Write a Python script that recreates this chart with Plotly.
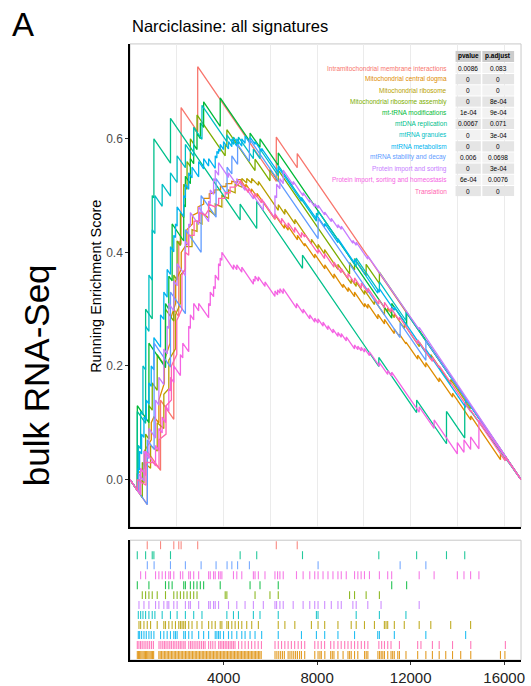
import plotly.graph_objects as go

W, H = 531, 686
N_GENES = 16720

set_names = [
    "Intramitochondrial membrane interactions",
    "Mitochondrial central dogma",
    "Mitochondrial ribosome",
    "Mitochondrial ribosome assembly",
    "mt-tRNA modifications",
    "mtDNA replication",
    "mtRNA granules",
    "mtRNA metabolism",
    "mtRNA stability and decay",
    "Protein import and sorting",
    "Protein import, sorting and homeostasis",
    "Translation",
]
set_colors = ["#F8766D", "#DE8C00", "#B79F00", "#7CAE00", "#00BA38", "#00C08B",
              "#00BFC4", "#00B4F0", "#619CFF", "#C77CFF", "#F564E3", "#FF64B0"]
pvalues = ["0.0086", "0", "0", "0", "1e-04", "0.0067", "0", "0", "0.006", "0", "6e-04", "0"]
padjust = ["0.083", "0", "0", "8e-04", "9e-04", "0.071", "3e-04", "0", "0.0698", "3e-04", "0.0076", "0"]

y_tick_vals = [0.0, 0.2, 0.4, 0.6]
y_tick_text = ["0.0", "0.2", "0.4", "0.6"]
x_tick_vals = [4000, 8000, 12000, 16000]
x_tick_text = ["4000", "8000", "12000", "16000"]

# running enrichment score vertices (gene rank, score)
es_intramito = [(0, 0), (737, -0.044), (737, 0.05), (1305, 0.016), (1305, 0.14), (1872, 0.106), (1872, 0.30),
                (2085, 0.287), (2085, 0.42), (2185, 0.414), (2185, 0.655), (2894, 0.612), (2894, 0.727),
                (6255, 0.525), (6255, 0.603), (7150, 0.549), (7150, 0.574), (16720, 0.0)]

es_central_dogma = [(0, 0), (312, -0.019), (312, 0.01), (610, 0.02), (610, 0.05), (910, 0.07), (910, 0.1), (1021, 0.11),
                    (1234, 0.1), (1234, 0.14), (1470, 0.17), (1470, 0.21), (1710, 0.24), (1710, 0.28), (1950, 0.31),
                    (1950, 0.35), (2190, 0.37), (2190, 0.40), (2430, 0.415), (2430, 0.44), (2670, 0.45), (2670, 0.465),
                    (2910, 0.47), (2910, 0.48), (3150, 0.485), (3150, 0.495), (3390, 0.495), (3390, 0.503),
                    (3630, 0.505), (3630, 0.51), (3870, 0.51), (3870, 0.516), (4110, 0.516), (4110, 0.521),
                    (4350, 0.521), (4350, 0.525), (4590, 0.523), (4590, 0.528), (4720, 0.528),
                    (4950, 0.514), (4950, 0.52), (5190, 0.5055), (5190, 0.512), (5430, 0.4975), (5430, 0.504),
                    (5610, 0.493), (6200, 0.458), (6200, 0.466), (6600, 0.442), (6600, 0.449), (6760, 0.439),
                    (6760, 0.446), (7160, 0.422), (7160, 0.43), (7470, 0.411), (7470, 0.416), (7900, 0.39),
                    (7900, 0.397), (8330, 0.371), (8330, 0.378), (8720, 0.354), (8720, 0.362), (9110, 0.338),
                    (9110, 0.344), (9330, 0.331), (9330, 0.338), (9600, 0.322), (9600, 0.33), (10030, 0.304),
                    (10030, 0.31), (10170, 0.3015), (10170, 0.309), (10600, 0.283), (10600, 0.291), (10880, 0.274),
                    (10880, 0.282), (11300, 0.257), (11300, 0.265), (11520, 0.252), (11520, 0.256), (11800, 0.239),
                    (11800, 0.242), (12300, 0.212), (12300, 0.219), (12650, 0.198), (12650, 0.206), (13220, 0.172),
                    (13220, 0.179), (13790, 0.145), (13790, 0.152), (14570, 0.105), (14570, 0.112), (15840, 0.035),
                    (15840, 0.045), (16030, 0.034), (16030, 0.042), (16720, 0.0)]

es_ribosome = [(0, 0), (383, -0.023), (383, 0.0), (596, -0.005), (596, 0.03), (879, 0.02), (879, 0.06), (1163, 0.05),
               (1163, 0.1), (1446, 0.09), (1446, 0.15), (1659, 0.16), (1659, 0.21), (1943, 0.23), (1943, 0.29),
               (2155, 0.31), (2155, 0.36), (2368, 0.37), (2368, 0.41), (2652, 0.41), (2652, 0.44), (2865, 0.437),
               (2865, 0.455), (3077, 0.45), (3077, 0.47), (3361, 0.46), (3361, 0.475), (3644, 0.465), (3644, 0.485),
               (3928, 0.48), (3928, 0.5), (4211, 0.495), (4211, 0.51), (4495, 0.505), (4495, 0.52), (4779, 0.515),
               (4779, 0.53), (4990, 0.522), (4990, 0.53), (5200, 0.522), (5200, 0.53), (5490, 0.518), (5490, 0.525),
               (6340, 0.474), (6340, 0.484), (6620, 0.467), (6620, 0.476), (7050, 0.45), (7050, 0.458),
               (7760, 0.415), (7760, 0.423), (8040, 0.406), (8040, 0.414), (8320, 0.397), (8320, 0.405),
               (8890, 0.37), (8890, 0.379), (9460, 0.345), (9460, 0.353), (9670, 0.34), (9670, 0.348),
               (10030, 0.326), (10030, 0.333), (10450, 0.308), (10450, 0.316), (10880, 0.29), (10880, 0.303),
               (11020, 0.295), (11020, 0.302), (11300, 0.285), (11300, 0.292), (11730, 0.266), (11730, 0.273),
               (12370, 0.234), (12370, 0.242), (12860, 0.212), (12860, 0.22), (13710, 0.168), (13710, 0.176),
               (14560, 0.125), (14560, 0.131), (16720, 0.0)]

es_assembly = [(0, 0), (525, -0.032), (525, 0.03), (666, 0.022), (666, 0.08), (808, 0.071), (808, 0.13), (950, 0.122),
               (950, 0.17), (1163, 0.157), (1163, 0.22), (1517, 0.199), (1517, 0.30), (1872, 0.279), (1872, 0.36),
               (2014, 0.351), (2014, 0.42), (2155, 0.412), (2155, 0.47), (2297, 0.461), (2297, 0.52), (2439, 0.511),
               (2439, 0.56), (2581, 0.551), (2581, 0.60), (2723, 0.591), (2723, 0.62), (2865, 0.611), (2865, 0.642),
               (4070, 0.57), (4070, 0.59), (4141, 0.586), (4141, 0.616), (5346, 0.544), (5346, 0.564),
               (5984, 0.526), (5984, 0.546), (6338, 0.525), (6338, 0.545), (9388, 0.362), (9388, 0.382),
               (9600, 0.369), (9600, 0.389), (10096, 0.359), (10096, 0.379), (10663, 0.345), (10663, 0.365),
               (16720, 0.0)]

es_trna = [(0, 0), (312, -0.019), (312, 0.13), (808, 0.10), (808, 0.24), (1517, 0.197), (1517, 0.31), (1659, 0.30),
           (1659, 0.358), (1801, 0.35), (1801, 0.45), (2297, 0.42), (2297, 0.484), (2368, 0.48), (2368, 0.534),
           (2581, 0.521), (2581, 0.565), (2723, 0.556), (2723, 0.59), (2865, 0.581), (2865, 0.61), (3007, 0.60),
           (3007, 0.628), (3148, 0.62), (3148, 0.665), (3857, 0.622), (3857, 0.672), (5133, 0.595), (5133, 0.61),
           (5558, 0.585), (5558, 0.60), (6338, 0.553), (6338, 0.575), (11190, 0.284), (11190, 0.31),
           (11828, 0.272), (11828, 0.294), (16720, 0.0)]

es_mtdna = [(0, 0), (311, -0.019), (311, 0.12), (667, 0.099), (667, 0.30), (950, 0.283), (950, 0.50), (1021, 0.496),
            (1021, 0.60), (1731, 0.557), (1731, 0.636), (4709, 0.457), (4709, 0.485), (5418, 0.442), (5418, 0.49),
            (7375, 0.372), (7375, 0.395), (10638, 0.199), (10638, 0.215), (12255, 0.118), (12255, 0.14),
            (13532, 0.063), (13532, 0.12), (14312, 0.073), (14312, 0.135), (16720, 0.0)]

es_granules = [(0, 0), (355, -0.021), (355, 0.06), (454, 0.054), (454, 0.12), (553, 0.114), (553, 0.20), (666, 0.193),
               (666, 0.27), (808, 0.261), (808, 0.36), (950, 0.351), (950, 0.44), (1064, 0.433), (1064, 0.50),
               (1375, 0.481), (1375, 0.52), (1730, 0.499), (1730, 0.54), (2014, 0.523), (2014, 0.57), (2368, 0.549),
               (2368, 0.59), (2723, 0.569), (2723, 0.62), (3077, 0.599), (3077, 0.659), (4141, 0.595), (4141, 0.607),
               (4424, 0.59), (4424, 0.603), (4637, 0.59), (4637, 0.603), (5275, 0.565), (5275, 0.582),
               (5558, 0.565), (5558, 0.582), (6338, 0.535), (6338, 0.553), (7970, 0.455), (7970, 0.469),
               (8040, 0.465), (8040, 0.473), (9671, 0.375), (9671, 0.39), (10663, 0.33), (10663, 0.348),
               (11798, 0.28), (11798, 0.295), (16720, 0.0)]

es_metabolism = [(0, 0), (355, -0.021), (355, 0.02), (411, 0.017), (411, 0.05), (496, 0.045), (496, 0.08), (596, 0.074),
                 (596, 0.11), (695, 0.104), (695, 0.14), (808, 0.133), (808, 0.17), (907, 0.164), (907, 0.20),
                 (1021, 0.193), (1021, 0.25), (1305, 0.233), (1305, 0.29), (1446, 0.282), (1446, 0.33),
                 (1588, 0.321), (1588, 0.37), (1730, 0.361), (1730, 0.41), (1872, 0.401), (1872, 0.43),
                 (1943, 0.426), (1943, 0.45), (2014, 0.446), (2014, 0.48), (2297, 0.463), (2297, 0.50),
                 (2368, 0.496), (2368, 0.52), (2510, 0.511), (2510, 0.54), (2652, 0.531), (2652, 0.55),
                 (2935, 0.533), (2935, 0.56), (3148, 0.547), (3148, 0.565), (3361, 0.552), (3361, 0.565),
                 (3644, 0.548), (3644, 0.57), (3715, 0.566), (3715, 0.578), (3786, 0.574), (3786, 0.582),
                 (3857, 0.578), (3857, 0.59), (3999, 0.581), (3999, 0.595), (4211, 0.582), (4211, 0.595),
                 (4353, 0.586), (4353, 0.60), (4566, 0.587), (4566, 0.60), (4779, 0.587), (4779, 0.60),
                 (4920, 0.592), (4920, 0.605), (5133, 0.592), (5133, 0.603), (5346, 0.59), (5346, 0.595),
                 (5629, 0.578), (5629, 0.583), (6338, 0.541), (6338, 0.55), (7331, 0.49), (7331, 0.497),
                 (7970, 0.459), (7970, 0.466), (8324, 0.445), (8324, 0.451), (8891, 0.417), (8891, 0.424),
                 (9600, 0.381), (9600, 0.388), (10592, 0.328), (10592, 0.334), (10663, 0.33), (10663, 0.336),
                 (11302, 0.298), (11302, 0.304), (12649, 0.223), (12649, 0.229), (14351, 0.127), (14351, 0.142),
                 (16720, 0.0)]

es_stability = [(0, 0), (740, -0.044), (740, 0.07), (1030, 0.053), (1030, 0.24), (1730, 0.198), (1730, 0.33),
                (2368, 0.292), (2368, 0.44), (3040, 0.40), (3040, 0.50), (3680, 0.462), (3680, 0.53), (4150, 0.502),
                (4150, 0.55), (4354, 0.538), (4354, 0.57), (4600, 0.555), (4600, 0.59), (5105, 0.56), (5105, 0.60),
                (8042, 0.424), (8042, 0.46), (11550, 0.25), (11550, 0.276), (12650, 0.21), (12650, 0.245),
                (16720, 0.0)]

es_import = [(0, 0), (383, -0.023), (383, 0.01), (596, -0.003), (596, 0.05), (808, 0.037), (808, 0.09), (1092, 0.073),
             (1092, 0.14), (1234, 0.131), (1234, 0.18), (1446, 0.167), (1446, 0.23), (1588, 0.221), (1588, 0.27),
             (1659, 0.266), (1659, 0.31), (1872, 0.297), (1872, 0.35), (2014, 0.341), (2014, 0.38), (2368, 0.359),
             (2368, 0.42), (2510, 0.411), (2510, 0.45), (2581, 0.446), (2581, 0.47), (2935, 0.449), (2935, 0.48),
             (3361, 0.454), (3361, 0.49), (3432, 0.486), (3432, 0.51), (3573, 0.502), (3573, 0.53), (3644, 0.526),
             (3644, 0.545), (3786, 0.536), (3786, 0.558), (4211, 0.532), (4211, 0.54), (4566, 0.519), (4566, 0.53),
             (4920, 0.509), (4920, 0.515), (5275, 0.494), (5275, 0.50), (5700, 0.4745), (5700, 0.49),
             (6197, 0.46), (6197, 0.50), (6268, 0.496), (6268, 0.52), (6409, 0.512), (6409, 0.53), (6551, 0.521),
             (6551, 0.545), (6977, 0.519), (6977, 0.525), (7402, 0.4995), (7402, 0.505), (7686, 0.488),
             (7686, 0.493), (7898, 0.48), (7898, 0.486), (8040, 0.4775), (8040, 0.483), (8324, 0.466),
             (8324, 0.471), (8607, 0.454), (8607, 0.46), (8891, 0.443), (8891, 0.449), (9033, 0.4405),
             (9033, 0.446), (9529, 0.416), (9529, 0.421), (9671, 0.4125), (9671, 0.418), (10167, 0.388),
             (10167, 0.394), (10734, 0.36), (10734, 0.362), (12365, 0.264), (12365, 0.268), (16720, 0.0)]

es_homeostasis = [(0, 0), (454, -0.027), (454, 0.02), (666, 0.007), (666, 0.05), (1092, 0.024), (1092, 0.06),
                  (1234, 0.051), (1234, 0.09), (1375, 0.082), (1375, 0.11), (1517, 0.10), (1517, 0.13), (1659, 0.12),
                  (1659, 0.16), (1730, 0.156), (1730, 0.18), (1872, 0.171), (1872, 0.20), (2155, 0.183), (2155, 0.22),
                  (2255, 0.214), (2255, 0.24), (2510, 0.225), (2510, 0.27), (2581, 0.266), (2581, 0.29),
                  (2723, 0.281), (2723, 0.31), (2935, 0.297), (2935, 0.31), (3361, 0.285), (3361, 0.31),
                  (3432, 0.306), (3432, 0.33), (3573, 0.322), (3573, 0.34), (3644, 0.336), (3644, 0.36),
                  (3786, 0.351), (3786, 0.38), (3857, 0.376), (3857, 0.39), (3928, 0.386), (3928, 0.40),
                  (4424, 0.37), (4424, 0.378), (4566, 0.3695), (4566, 0.378), (4779, 0.365), (4779, 0.374),
                  (5275, 0.344), (5275, 0.353), (5346, 0.349), (5346, 0.358), (5488, 0.3495), (5488, 0.357),
                  (5771, 0.34), (5771, 0.348), (6197, 0.3225), (6197, 0.332), (6310, 0.325), (6310, 0.334),
                  (6409, 0.328), (6409, 0.336), (6551, 0.3275), (6551, 0.336), (7118, 0.302), (7118, 0.31),
                  (7402, 0.293), (7402, 0.30), (7686, 0.283), (7686, 0.29), (7898, 0.277), (7898, 0.284),
                  (8040, 0.2755), (8040, 0.283), (8253, 0.27), (8253, 0.277), (8465, 0.264), (8465, 0.271),
                  (8678, 0.258), (8678, 0.265), (8891, 0.252), (8891, 0.259), (9033, 0.2505), (9033, 0.257),
                  (9246, 0.244), (9246, 0.251), (9600, 0.23), (9600, 0.237), (9742, 0.2285), (9742, 0.235),
                  (9883, 0.2265), (9883, 0.233), (10025, 0.2245), (10025, 0.231), (10238, 0.218), (10238, 0.225),
                  (10663, 0.1995), (10663, 0.206), (11018, 0.185), (11018, 0.192), (11188, 0.182), (11188, 0.189),
                  (12365, 0.1185), (12365, 0.128), (13003, 0.09), (13003, 0.105), (13996, 0.045), (13996, 0.065),
                  (14280, 0.048), (14280, 0.07), (14563, 0.053), (14563, 0.075), (14918, 0.054), (14918, 0.105),
                  (16720, 0.0)]

es_translation = [(0, 0), (312, -0.019), (312, 0.0), (680, -0.01), (680, 0.03), (1000, 0.03), (1240, 0.02),
                  (1240, 0.07), (1540, 0.08), (1540, 0.13), (1770, 0.14), (1770, 0.2), (2000, 0.22), (2000, 0.28),
                  (2220, 0.3), (2220, 0.36), (2360, 0.37), (2360, 0.40), (2510, 0.395), (2510, 0.43), (2740, 0.43),
                  (2740, 0.455), (2980, 0.455), (2980, 0.47), (3210, 0.465), (3360, 0.475), (3360, 0.485),
                  (3640, 0.48), (3790, 0.485), (3790, 0.495), (4070, 0.495), (4070, 0.505), (4280, 0.505),
                  (4280, 0.515), (4490, 0.515), (4640, 0.52), (4720, 0.526), (5060, 0.505), (5060, 0.513),
                  (5340, 0.496), (5340, 0.504), (5620, 0.487), (5620, 0.494), (6200, 0.459), (6200, 0.468),
                  (6480, 0.451), (6480, 0.46), (6760, 0.443), (6760, 0.452), (7040, 0.435), (7040, 0.444),
                  (7330, 0.426), (7330, 0.435), (7470, 0.427), (7470, 0.432), (8040, 0.398), (8040, 0.406),
                  (8320, 0.389), (8320, 0.398), (8720, 0.374), (8720, 0.383), (9030, 0.364), (9030, 0.372),
                  (9320, 0.354), (9320, 0.363), (9600, 0.346), (9600, 0.355), (9890, 0.337), (9890, 0.346),
                  (10170, 0.329), (10170, 0.337), (10640, 0.309), (10640, 0.317), (10880, 0.302), (10880, 0.312),
                  (11160, 0.295), (11160, 0.302), (11520, 0.28), (11520, 0.286), (12300, 0.239), (12300, 0.246),
                  (12930, 0.208), (12930, 0.215), (13220, 0.197), (13220, 0.2), (13790, 0.166), (14570, 0.119),
                  (14570, 0.122), (16050, 0.033), (16050, 0.04), (16720, 0.0)]

# gene-set member positions in the ranked list (rug panel)
hits_intramito = [737, 1305, 1872, 2085, 2185, 2894, 6255, 7150]
hits_mtdna = [311, 667, 950, 1021, 1731, 4709, 5418, 7375, 10638, 12255, 13532, 14312]
hits_stability = [740, 1030, 1730, 2368, 3040, 3680, 4150, 4354, 4600, 5105, 8042, 11550, 12650]
hits_homeostasis = [454, 666, 1092, 1234, 1375, 1517, 1659, 1730, 1872, 2155, 2255, 2510, 2581, 2723, 2935, 3361,
                    3432, 3573, 3644, 3786, 3857, 3928, 4424, 4566, 4779, 5275, 5346, 5488, 5771, 6197, 6310, 6409,
                    6551, 7118, 7402, 7686, 7898, 8040, 8253, 8465, 8678, 8891, 9033, 9246, 9600, 9742, 9883,
                    10025, 10238, 10663, 11018, 11188, 12365, 13003, 13996, 14280, 14563, 14918]
hits_trna = [312, 808, 1517, 1659, 1801, 2297, 2368, 2581, 2723, 2865, 3007, 3148, 3857, 5133, 5558, 6338,
             11190, 11828]
hits_assembly = [525, 666, 808, 950, 1163, 1517, 1872, 2014, 2155, 2297, 2439, 2581, 2723, 2865, 4070, 4141, 5346,
                 5984, 6338, 9388, 9600, 10096, 10663]
hits_import = [383, 596, 808, 1092, 1234, 1446, 1588, 1659, 1872, 2014, 2368, 2510, 2581, 2935, 3361, 3432, 3573,
               3644, 3786, 4211, 4566, 4920, 5275, 5700, 6197, 6268, 6409, 6551, 6977, 7402, 7686, 7898, 8040,
               8324, 8607, 8891, 9033, 9529, 9671, 10167, 10734, 12365]
hits_granules = [355, 454, 553, 666, 808, 950, 1064, 1375, 1730, 2014, 2368, 2723, 3077, 4141, 4424, 4637, 5275,
                 5558, 6338, 7970, 8040, 9671, 10663, 11798]
hits_ribosome = [383, 454, 596, 737, 879, 1163, 1446, 1517, 1659, 1801, 1943, 2084, 2155, 2226, 2297, 2368, 2510,
                 2652, 2865, 3077, 3361, 3502, 3644, 3857, 3928, 4141, 4211, 4353, 4495, 4637, 4779, 4991, 5204,
                 5488, 6338, 6622, 7047, 7756, 8040, 8324, 8891, 9458, 9671, 10025, 10451, 10876, 10947, 11018,
                 11302, 11727, 12365, 12861, 13712, 14563]
hits_metabolism = [355, 411, 496, 596, 695, 808, 907, 1021, 1305, 1446, 1588, 1730, 1872, 1943, 2014, 2297, 2368,
                   2510, 2652, 2935, 3148, 3361, 3644, 3715, 3786, 3857, 3999, 4211, 4353, 4566, 4779, 4920, 5133,
                   5346, 5629, 6338, 7331, 7970, 8324, 8891, 9600, 10592, 10663, 11302, 12649, 14351]
hits_translation = [312, 380, 450, 520, 600, 680, 760, 840, 920, 1000, 1240, 1320, 1400, 1470, 1540, 1620, 1700,
                    1770, 1850, 1920, 2000, 2080, 2150, 2220, 2300, 2360, 2510, 2590, 2660, 2740, 2820, 2900, 2980,
                    3060, 3140, 3210, 3360, 3450, 3540, 3640, 3790, 3860, 3930, 4000, 4070, 4140, 4210, 4280, 4350,
                    4420, 4490, 4640, 4780, 4920, 5060, 5200, 5340, 5480, 5620, 6200, 6340, 6480, 6620, 6760, 6900,
                    7040, 7190, 7330, 7470, 7900, 8040, 8180, 8320, 8580, 8720, 8890, 9030, 9180, 9320, 9460, 9600,
                    9740, 9890, 10030, 10170, 10640, 10760, 10880, 11020, 11160, 11520, 12300, 12440, 12930, 13220,
                    13790, 14570, 16050]
hits_central_dogma = [312, 360, 410, 460, 510, 560, 610, 660, 710, 760, 810, 860, 910, 960, 1010, 1234, 1290, 1350,
                      1410, 1470, 1530, 1590, 1650, 1710, 1770, 1830, 1890, 1950, 2010, 2070, 2130, 2190, 2250, 2310,
                      2370, 2430, 2490, 2550, 2610, 2670, 2730, 2790, 2850, 2910, 2970, 3030, 3090, 3150, 3210, 3270,
                      3330, 3390, 3450, 3510, 3570, 3630, 3690, 3750, 3810, 3870, 3930, 3990, 4050, 4110, 4170, 4230,
                      4290, 4350, 4410, 4470, 4530, 4590, 4650, 4710, 4770, 4830, 4890, 4950, 5010, 5070, 5130, 5190,
                      5250, 5310, 5370, 5430, 5490, 5550, 5610, 6200, 6280, 6360, 6440, 6520, 6600, 6760, 6840, 6920,
                      7000, 7080, 7160, 7250, 7330, 7470, 7900, 8040, 8120, 8180, 8330, 8580, 8650, 8720, 8890, 9110,
                      9320, 9390, 9460, 9600, 9740, 10030, 10100, 10170, 10600, 10670, 10740, 10810, 10880, 11020,
                      11160, 11230, 11300, 11450, 11520, 11800, 12300, 12650, 12930, 13220, 13500, 13790, 14140,
                      14570, 15840, 16030]

curves = [es_intramito, es_central_dogma, es_ribosome, es_assembly, es_trna, es_mtdna,
          es_granules, es_metabolism, es_stability, es_import, es_homeostasis, es_translation]
hits = [hits_intramito, hits_central_dogma, hits_ribosome, hits_assembly, hits_trna, hits_mtdna,
        hits_granules, hits_metabolism, hits_stability, hits_import, hits_homeostasis, hits_translation]
# rug rows from bottom to top (indices into set_names)
rug_order = [1, 11, 7, 2, 6, 9, 3, 4, 10, 8, 5, 0]

FONT = "Liberation Sans, Arial, Helvetica, sans-serif"


def px_x(p):
    return p / W


def px_y(p):
    return 1 - p / H


fig = go.Figure()

for name, col, pts in zip(set_names, set_colors, curves):
    fig.add_trace(go.Scatter(
        x=[p[0] for p in pts], y=[p[1] for p in pts], mode="lines", name=name,
        line=dict(color=col, width=1.3), xaxis="x", yaxis="y",
        showlegend=False, hoverinfo="skip"))

for row, idx in enumerate(rug_order):
    xs, ys = [], []
    for h in hits[idx]:
        xs += [h, h, None]
        ys += [row + 0.1, row + 0.9, None]
    fig.add_trace(go.Scatter(
        x=xs, y=ys, mode="lines", line=dict(color=set_colors[idx], width=1.1),
        opacity=0.85, xaxis="x2", yaxis="y2", showlegend=False, hoverinfo="skip"))

X0, X1 = 131, 525
MAIN_T, MAIN_B = 44, 528
RUG_T, RUG_B = 541, 661

shapes = []
for t, b in [(MAIN_T, MAIN_B), (RUG_T, RUG_B)]:
    shapes.append(dict(type="rect", xref="paper", yref="paper", x0=px_x(X0), x1=px_x(X1),
                       y0=px_y(b), y1=px_y(t), line=dict(color="#C8C8C8", width=1),
                       fillcolor="rgba(0,0,0,0)", layer="below"))

annotations = [
    dict(text="A", x=px_x(10), y=px_y(25), xref="paper", yref="paper", xanchor="left", yanchor="middle",
         showarrow=False, font=dict(size=33, color="black", family=FONT)),
    dict(text="bulk RNA-Seq", x=px_x(37), y=px_y(376), xref="paper", yref="paper", xanchor="center",
         yanchor="middle", textangle=-90, showarrow=False, font=dict(size=35, color="black", family=FONT)),
    dict(text="Narciclasine: all signatures", x=px_x(131), y=px_y(26), xref="paper", yref="paper",
         xanchor="left", yanchor="middle", showarrow=False, font=dict(size=16.5, color="black", family=FONT)),
    dict(text="Running Enrichment Score", x=px_x(96), y=px_y(287), xref="paper", yref="paper",
         xanchor="center", yanchor="middle", textangle=-90, showarrow=False,
         font=dict(size=14.5, color="black", family=FONT)),
]

# table
C1L, C1R, C2L, C2R = 459, 484.5, 486, 518
HDR_T, ROW0_T, ROW_H = 51, 62, 11.2
shapes.append(dict(type="rect", xref="paper", yref="paper", x0=px_x(C1L), x1=px_x(C1R),
                   y0=px_y(ROW0_T), y1=px_y(HDR_T), fillcolor="#CCCCCC", line=dict(width=0)))
shapes.append(dict(type="rect", xref="paper", yref="paper", x0=px_x(C2L), x1=px_x(C2R),
                   y0=px_y(ROW0_T), y1=px_y(HDR_T), fillcolor="#CCCCCC", line=dict(width=0)))
annotations.append(dict(text="<b>pvalue</b>", x=px_x((C1L + C1R) / 2), y=px_y((HDR_T + ROW0_T) / 2),
                        xref="paper", yref="paper", showarrow=False, xanchor="center", yanchor="middle",
                        font=dict(size=6.5, color="black", family=FONT)))
annotations.append(dict(text="<b>p.adjust</b>", x=px_x((C2L + C2R) / 2), y=px_y((HDR_T + ROW0_T) / 2),
                        xref="paper", yref="paper", showarrow=False, xanchor="center", yanchor="middle",
                        font=dict(size=6.5, color="black", family=FONT)))
for i, name in enumerate(set_names):
    top = ROW0_T + 1 + i * ROW_H
    bot = top + ROW_H - 1
    fill = "#F2F2F2" if i % 2 == 0 else "#E5E5E5"
    for l, r in [(C1L, C1R), (C2L, C2R)]:
        shapes.append(dict(type="rect", xref="paper", yref="paper", x0=px_x(l), x1=px_x(r),
                           y0=px_y(bot), y1=px_y(top), fillcolor=fill, line=dict(width=0)))
    cy = px_y((top + bot) / 2)
    annotations.append(dict(text=name, x=px_x(452), y=cy, xref="paper", yref="paper", showarrow=False,
                            xanchor="right", yanchor="middle",
                            font=dict(size=6.5, color=set_colors[i], family=FONT)))
    annotations.append(dict(text=pvalues[i], x=px_x((C1L + C1R) / 2), y=cy, xref="paper", yref="paper",
                            showarrow=False, xanchor="center", yanchor="middle",
                            font=dict(size=6.5, color="black", family=FONT)))
    annotations.append(dict(text=padjust[i], x=px_x((C2L + C2R) / 2), y=cy, xref="paper", yref="paper",
                            showarrow=False, xanchor="center", yanchor="middle",
                            font=dict(size=6.5, color="black", family=FONT)))

fig.update_layout(
    width=W, height=H, margin=dict(l=0, r=0, t=0, b=0),
    paper_bgcolor="white", plot_bgcolor="rgba(0,0,0,0)",
    font=dict(family=FONT, color="black"),
    showlegend=False,
    xaxis=dict(domain=[px_x(X0), px_x(X1)], anchor="y", range=[0, N_GENES], showgrid=True,
               gridcolor="#EBEBEB", gridwidth=1, tick0=0, dtick=2000, showticklabels=False, ticks="",
               showline=True, linecolor="black", linewidth=1.5, zeroline=False, fixedrange=True),
    yaxis=dict(domain=[px_y(MAIN_B), px_y(MAIN_T)], anchor="x", range=[-0.084, 0.767],
               tickvals=y_tick_vals, ticktext=y_tick_text, ticks="outside", ticklen=3, tickwidth=1,
               tickcolor="#333333", tickfont=dict(size=12, color="#4D4D4D", family=FONT),
               showline=True, linecolor="black", linewidth=1.5, showgrid=False, zeroline=False,
               fixedrange=True),
    xaxis2=dict(domain=[px_x(X0), px_x(X1)], anchor="y2", range=[0, N_GENES], tickvals=x_tick_vals,
                ticktext=x_tick_text, ticks="outside", ticklen=3, tickwidth=1, tickcolor="#333333",
                tickfont=dict(size=15, color="#222222", family=FONT), showline=True, linecolor="black",
                linewidth=1.5, showgrid=False, zeroline=False, fixedrange=True),
    yaxis2=dict(domain=[px_y(RUG_B), px_y(RUG_T)], anchor="x2", range=[0, 12], showticklabels=False,
                ticks="", showline=True, linecolor="black", linewidth=1.5, showgrid=False,
                zeroline=False, fixedrange=True),
    shapes=shapes,
    annotations=annotations,
)

fig.write_html("out.html")
